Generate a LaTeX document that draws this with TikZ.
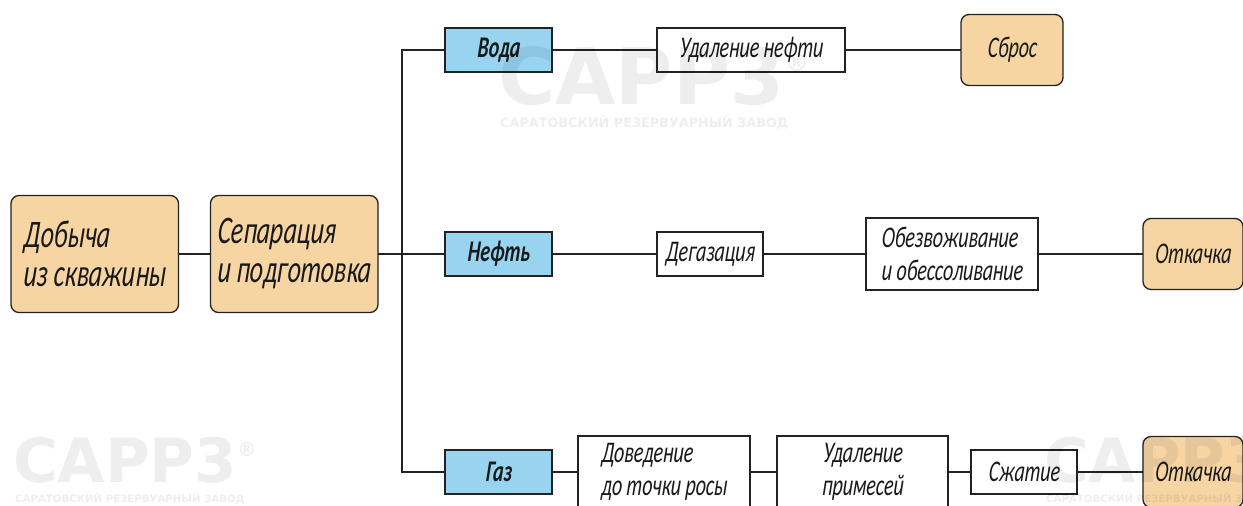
\documentclass[tikz,border=0pt]{standalone}
\usepackage{fontspec}
\newfontfamily\gostfont[FakeStretch=0.66,FakeSlant=0.08]{Carlito}
\newfontfamily\logofont{DejaVu Sans}
\usetikzlibrary{positioning}
\definecolor{stagefill}{HTML}{F6D5A3}
\definecolor{phasefill}{HTML}{98D3EF}
\definecolor{linecol}{HTML}{222222}
\newcommand{\logoreg}{\raisebox{.42em}{\scalebox{.32}{®}}}
\begin{document}
\begin{tikzpicture}[
            x=1pt, y=-1pt,
            box/.style={draw=linecol, line width=1.3pt, outer sep=0pt, inner sep=0pt, text=black!90,
                font=\gostfont\itshape\fontsize{30}{33}\selectfont, align=center},
            stage/.style={box, fill=stagefill, rounded corners=8pt, minimum width=167.5pt, minimum height=117pt,
                font=\gostfont\itshape\fontsize{39}{39}\selectfont, align=left},
            final/.style={box, fill=stagefill, rounded corners=8pt, minimum height=71pt},
            phase/.style={box, fill=phasefill, minimum width=107pt, minimum height=44pt,
                font=\gostfont\itshape\bfseries\fontsize{30}{33}\selectfont},
            treat/.style={box, fill=white, minimum height=44pt},
            treatbig/.style={box, fill=white, minimum height=72pt},
            link/.style={draw=linecol, line width=1.3pt},
            logo/.style={inner sep=0pt, anchor=west, opacity=0.065, font=\logofont\bfseries\fontsize{61}{61}\selectfont},
            logobig/.style={logo, font=\logofont\bfseries\fontsize{78}{78}\selectfont},
            logosub/.style={inner sep=0pt, anchor=west, opacity=0.065, font=\logofont\bfseries\fontsize{10.2}{12}\selectfont},
            logosubbig/.style={logosub, font=\logofont\bfseries\fontsize{12.8}{14}\selectfont}
        ]
            \path [use as bounding box, clip] (0,0) rectangle (1243,506);

            \node [stage, anchor=west] (well) at (11,254) {Добыча\\из скважины};
            \node [stage, right=32pt of well] (sep) {Сепарация\\и подготовка};
            \coordinate [right=24pt of sep] (split);

            \node [phase, right=67pt of sep] (oil) {Нефть};
            \node [phase, above=160pt of oil] (water) {Вода};
            \node [phase, below=174pt of oil] (gas) {Газ};

            % water
            \node [treat, right=105pt of water, minimum width=188pt] (dewater) {Удаление нефти};
            \node [final, right=116pt of dewater, minimum width=102pt] (dump) {Сброс};

            % oil
            \node [treat, right=105pt of oil, minimum width=106pt] (degas) {Дегазация};
            \node [treatbig, right=103pt of degas, minimum width=172pt, align=left] (dehyd) {Обезвоживание\\и обессоливание};
            \node [final, right=105pt of dehyd, minimum width=100pt] (pumpoil) {Откачка};

            % gas
            \node [treatbig, right=26pt of gas, minimum width=172pt, align=left] (dew) {Доведение\\до точки росы};
            \node [treatbig, right=27pt of dew, minimum width=171pt] (purify) {Удаление\\примесей};
            \node [treat, right=23pt of purify, minimum width=106pt] (compress) {Сжатие};
            \node [final, right=66pt of compress, minimum width=100pt] (pumpgas) {Откачка};

            \draw [link] (well) -- (sep);
            \draw [link] (sep) -- (oil);
            \draw [link] (split) |- (water);
            \draw [link] (split) |- (gas);
            \draw [link] (water) -- (dewater);
            \draw [link] (dewater) -- (dump);
            \draw [link] (oil) -- (degas);
            \draw [link] (degas) -- (dehyd);
            \draw [link] (dehyd) -- (pumpoil);
            \draw [link] (gas) -- (dew);
            \draw [link] (dew) -- (purify);
            \draw [link] (purify) -- (compress);
            \draw [link] (compress) -- (pumpgas);

            % faint company marks
            \node [logobig] (markA) at (498,76) {CAPP3\logoreg};
            \node [logosubbig] (subA) at (500,123) {САРАТОВСКИЙ РЕЗЕРВУАРНЫЙ ЗАВОД};
            \node [logo] (markB) at (13,460) {CAPP3\logoreg};
            \node [logosub] (subB) at (15,499) {САРАТОВСКИЙ РЕЗЕРВУАРНЫЙ ЗАВОД};
            \node [logo] (markC) at (1044,460) {CAPP3\logoreg};
            \node [logosub] (subC) at (1046,499) {САРАТОВСКИЙ РЕЗЕРВУАРНЫЙ ЗАВОД};
        \end{tikzpicture}
\end{document}
